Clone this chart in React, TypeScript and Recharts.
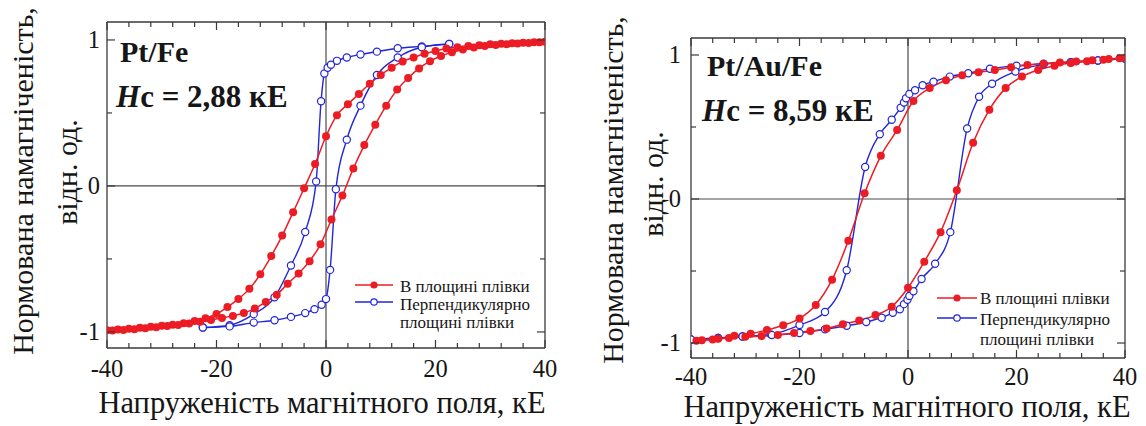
import React from 'react';
import { LineChart, Line, XAxis, YAxis, ReferenceLine, Legend, Label } from 'recharts';

const W = 1146;
const H = 426;
const RED = '#ec1c24';
const BLUE = '#2226d8';
const AXIS = '#3a3a3a';
const TEXT = '#161616';
const SERIF = '"Liberation Serif", "DejaVu Serif", "Times New Roman", serif';

// ---- axes / labels ----
const X_TICKS = [-40, -36, -32, -28, -24, -20, -16, -12, -8, -4, 0, 4, 8, 12, 16, 20, 24, 28, 32, 36, 40];
const X_LABELS = [-40, -20, 0, 20, 40];
const Y_TICKS = [-1, -0.5, 0, 0.5, 1];
const Y_LABELS = [-1, 0, 1];
const SERIES_NAMES = ['В площині плівки', 'Перпендикулярно', 'площині плівки'];
const X_TITLE = 'Напруженість магнітного поля, кЕ';
const Y_TITLE_1 = 'Нормована намагніченість,';
const Y_TITLE_2 = 'відн. од.';
const SAMPLES = ['Pt/Fe', 'Pt/Au/Fe'];
const HC_VALUES = ['2,88', '8,59'];

// ---- Pt/Fe, in-plane (red) ----
const ptFeInPlaneDescH = [-40, -38, -36, -34, -32, -30, -28, -26, -24, -22, -20, -18, -16, -14, -12, -10, -8, -6, -4, -2, 0, 2, 4, 6, 8, 10, 12, 14, 16, 18, 20, 22, 24, 26, 28, 30, 32, 34, 36, 38, 40];
const ptFeInPlaneDescM = [-0.988, -0.983, -0.978, -0.972, -0.965, -0.958, -0.95, -0.94, -0.925, -0.906, -0.877, -0.83, -0.774, -0.705, -0.605, -0.48, -0.34, -0.18, -0.016, 0.15, 0.34, 0.485, 0.56, 0.63, 0.7, 0.76, 0.81, 0.853, 0.88, 0.905, 0.925, 0.942, 0.95, 0.958, 0.964, 0.97, 0.974, 0.978, 0.981, 0.984, 0.988];
const ptFeInPlaneAscH = [-39, -37, -35, -33, -31, -29, -27, -25, -23, -21, -19, -17, -15, -13, -11, -9, -7, -5, -3, -1, 1, 3, 5, 7, 9, 11, 13, 15, 17, 19, 21, 23, 25, 27, 29, 31, 33, 35, 37, 39];
const ptFeInPlaneAscM = [-0.99, -0.986, -0.981, -0.975, -0.968, -0.96, -0.952, -0.942, -0.93, -0.918, -0.905, -0.89, -0.87, -0.84, -0.795, -0.745, -0.67, -0.6, -0.515, -0.4, -0.23, -0.065, 0.12, 0.28, 0.42, 0.55, 0.66, 0.74, 0.805, 0.855, 0.89, 0.915, 0.935, 0.948, 0.958, 0.965, 0.971, 0.976, 0.98, 0.985];

// ---- Pt/Fe, perpendicular (blue) ----
const ptFePerpDescH = [-22.5, -17.6, -13.2, -9.4, -6.4, -3.8, -1.8, -0.9, -0.3, 0.3, 0.9, 2.0, 3.8, 6.3, 9.3, 13.1, 17.5, 22.5];
const ptFePerpDescM = [-0.97, -0.954, -0.878, -0.763, -0.545, -0.315, 0.03, 0.58, 0.77, 0.81, 0.83, 0.857, 0.88, 0.9, 0.92, 0.943, 0.956, 0.972];
const ptFePerpAscH = [-22.5, -17.6, -13.2, -9.4, -6.4, -3.8, -2.1, -0.8, 0.0, 0.75, 1.8, 3.8, 6.3, 9.3, 13.1, 17.5, 22.5];
const ptFePerpAscM = [-0.97, -0.962, -0.936, -0.92, -0.897, -0.871, -0.844, -0.814, -0.775, -0.575, -0.023, 0.317, 0.55, 0.76, 0.88, 0.95, 0.972];

// ---- Pt/Au/Fe, in-plane (red) ----
const ptAuFeInPlaneDescH = [-38, -35, -32, -29, -26, -23, -20, -17, -14, -11, -8, -5, -2, 1, 4, 7, 10, 13, 16, 19, 22, 25, 28, 31, 34, 37, 40];
const ptAuFeInPlaneDescM = [-0.98, -0.97, -0.95, -0.935, -0.91, -0.877, -0.83, -0.736, -0.56, -0.29, 0.04, 0.3, 0.48, 0.68, 0.77, 0.825, 0.86, 0.88, 0.895, 0.915, 0.93, 0.94, 0.948, 0.955, 0.963, 0.972, 0.98];
const ptAuFeInPlaneAscH = [-39, -36, -33, -30, -27, -24, -21, -18, -15, -12, -9, -6, -3, 0, 3, 6, 9, 12, 15, 18, 21, 24, 27, 30, 33, 36, 39];
const ptAuFeInPlaneAscM = [-0.985, -0.975, -0.965, -0.957, -0.952, -0.945, -0.93, -0.917, -0.9, -0.87, -0.843, -0.806, -0.748, -0.616, -0.435, -0.23, 0.06, 0.39, 0.62, 0.77, 0.85, 0.895, 0.925, 0.945, 0.957, 0.967, 0.978];

// ---- Pt/Au/Fe, perpendicular (blue) ----
const ptAuFePerpDescH = [-40, -35, -30.5, -25.3, -20, -15.3, -11.3, -7.9, -5.2, -3.0, -1.35, -0.74, -0.37, 0.25, 1.3, 2.7, 4.7, 7.7, 11.1, 15.1, 20, 25, 30, 35, 40];
const ptAuFePerpDescM = [-0.975, -0.965, -0.955, -0.94, -0.875, -0.785, -0.495, 0.222, 0.45, 0.55, 0.634, 0.67, 0.7, 0.73, 0.755, 0.79, 0.815, 0.85, 0.873, 0.905, 0.925, 0.94, 0.95, 0.962, 0.975];
const ptAuFePerpAscH = [-40, -35, -30.5, -25.1, -20, -15.3, -11.3, -7.7, -4.85, -2.8, -1.5, -0.74, -0.1, 0.25, 1.0, 2.5, 5.0, 7.8, 10.9, 13.1, 15.5, 19.8, 25, 30, 35, 40];
const ptAuFePerpAscM = [-0.975, -0.965, -0.955, -0.945, -0.93, -0.905, -0.88, -0.854, -0.824, -0.79, -0.766, -0.73, -0.7, -0.674, -0.64, -0.555, -0.45, -0.23, 0.49, 0.71, 0.8, 0.885, 0.935, 0.95, 0.962, 0.975];

const rows = (h: number[], m: number[]) => h.map((v, i) => ({ h: v, m: m[i] }));

const makeBottomTick = (labelDy: number) => (props: any) => {
  const { x, y, payload } = props;
  const major = X_LABELS.includes(payload.value);
  return (
    <g>
      <line x1={x} x2={x} y1={y} y2={y - (major ? 8 : 5)} stroke={AXIS} strokeWidth={1.2} />
      {major && (
        <text x={x} y={y + labelDy} textAnchor="middle" fontFamily={SERIF} fontSize={24.5} fill={TEXT}>
          {payload.value}
        </text>
      )}
    </g>
  );
};
const TopTick = (props: any) => {
  const { x, y, payload } = props;
  const major = X_LABELS.includes(payload.value);
  return <line x1={x} x2={x} y1={y} y2={y + (major ? 8 : 5)} stroke={AXIS} strokeWidth={1.2} />;
};
const makeLeftTick = (gap: number) => (props: any) => {
  const { x, y, payload } = props;
  const major = Y_LABELS.includes(payload.value);
  return (
    <g>
      <line x1={x} x2={x + (major ? 8 : 5)} y1={y} y2={y} stroke={AXIS} strokeWidth={1.2} />
      {major && (
        <text x={x - gap} y={y + 8} textAnchor="end" fontFamily={SERIF} fontSize={24.5} fill={TEXT}>
          {payload.value}
        </text>
      )}
    </g>
  );
};
const RightTick = (props: any) => {
  const { x, y, payload } = props;
  const major = Y_LABELS.includes(payload.value);
  return <line x1={x} x2={x - (major ? 8 : 5)} y1={y} y2={y} stroke={AXIS} strokeWidth={1.2} />;
};

type Pt = { h: number; m: number };
type PanelCfg = {
  box: { left: number; right: number; top: number; bottom: number };
  yDomain: [number, number];
  redDesc: Pt[];
  redAsc: Pt[];
  blueDesc: Pt[];
  blueAsc: Pt[];
  sample: string;
  hc: string;
  sampleXY: [number, number];
  hcXY: [number, number];
  xTitleXY: [number, number];
  yTitle1XY: [number, number];
  yTitle2XY: [number, number];
  tickLabelDy: number;
  yLabelGap: number;
  legendXY: [number, number];
  legendGeom: { x1: number; x2: number; tx: number; ly: [number, number]; ty: [number, number, number] };
};

const panels: PanelCfg[] = [
  {
    box: { left: 107, right: 545, top: 22, bottom: 348 },
    yDomain: [-1.11, 1.123],
    redDesc: rows(ptFeInPlaneDescH, ptFeInPlaneDescM),
    redAsc: rows(ptFeInPlaneAscH, ptFeInPlaneAscM),
    blueDesc: rows(ptFePerpDescH, ptFePerpDescM),
    blueAsc: rows(ptFePerpAscH, ptFePerpAscM),
    sample: SAMPLES[0],
    hc: HC_VALUES[0],
    sampleXY: [120, 62],
    hcXY: [116, 107],
    xTitleXY: [322, 413],
    yTitle1XY: [33, 181],
    yTitle2XY: [77, 172],
    tickLabelDy: 29,
    yLabelGap: 7,
    legendXY: [350, 272],
    legendGeom: { x1: 5, x2: 43, tx: 50, ly: [13, 30], ty: [20, 38, 56] },
  },
  {
    box: { left: 691, right: 1125, top: 38, bottom: 358 },
    yDomain: [-1.104, 1.118],
    redDesc: rows(ptAuFeInPlaneDescH, ptAuFeInPlaneDescM),
    redAsc: rows(ptAuFeInPlaneAscH, ptAuFeInPlaneAscM),
    blueDesc: rows(ptAuFePerpDescH, ptAuFePerpDescM),
    blueAsc: rows(ptAuFePerpAscH, ptAuFePerpAscM),
    sample: SAMPLES[1],
    hc: HC_VALUES[1],
    sampleXY: [707, 76],
    hcXY: [702, 121],
    xTitleXY: [907, 417],
    yTitle1XY: [623, 190],
    yTitle2XY: [663, 184],
    tickLabelDy: 27,
    yLabelGap: 10,
    legendXY: [932, 285],
    legendGeom: { x1: 5, x2: 45, tx: 48, ly: [13, 33], ty: [19, 40, 60] },
  },
];

const AX_B = 30; // bottom axis band
const AX_T = 4; // top axis band
const AX_L = 40; // left axis band
const AX_R = 4; // right axis band

const LegendBox = ({ g }: { g: PanelCfg['legendGeom'] }) => {
  const mx = (g.x1 + g.x2) / 2;
  return (
    <svg width={200} height={70} style={{ display: 'block', overflow: 'visible', fontFamily: SERIF }}>
      <line x1={g.x1} x2={g.x2} y1={g.ly[0]} y2={g.ly[0]} stroke={RED} strokeWidth={1.6} />
      <circle cx={mx} cy={g.ly[0]} r={3.6} fill={RED} />
      <line x1={g.x1} x2={g.x2} y1={g.ly[1]} y2={g.ly[1]} stroke={BLUE} strokeWidth={1.4} />
      <circle cx={mx} cy={g.ly[1]} r={3.2} fill="#fff" stroke={BLUE} strokeWidth={1.2} />
      {SERIES_NAMES.map((t, i) => (
        <text key={i} x={g.tx} y={g.ty[i]} fontFamily={SERIF} style={{ fontFamily: SERIF }} fontSize={17} fill={TEXT}>
          {t}
        </text>
      ))}
    </svg>
  );
};

const Panel = ({ cfg }: { cfg: PanelCfg }) => {
  const redDot = { r: 4, fill: RED, stroke: RED, strokeWidth: 0 };
  const blueDot = { r: 3.6, fill: '#ffffff', stroke: BLUE, strokeWidth: 1.2 };
  const margin = {
    top: cfg.box.top - AX_T,
    bottom: H - cfg.box.bottom - AX_B,
    left: cfg.box.left - AX_L,
    right: W - cfg.box.right - AX_R,
  };
  return (
    <div style={{ position: 'absolute', left: 0, top: 0, width: W, height: H }}>
      <LineChart width={W} height={H} margin={margin}>
        <XAxis
          dataKey="h"
          type="number"
          domain={[-40, 40]}
          ticks={X_TICKS}
          interval={0}
          height={AX_B}
          tickSize={0}
          tickMargin={0}
          allowDataOverflow
          axisLine={{ stroke: AXIS, strokeWidth: 1.3 }}
          tick={makeBottomTick(cfg.tickLabelDy)}
        >
          <Label
            content={() => (
              <text x={cfg.xTitleXY[0]} y={cfg.xTitleXY[1]} textAnchor="middle" fontFamily={SERIF} fontSize={30.5} fill={TEXT}>
                {X_TITLE}
              </text>
            )}
          />
        </XAxis>
        <XAxis
          xAxisId="top"
          orientation="top"
          dataKey="h"
          type="number"
          domain={[-40, 40]}
          ticks={X_TICKS}
          interval={0}
          height={AX_T}
          tickSize={0}
          tickMargin={0}
          allowDataOverflow
          axisLine={{ stroke: AXIS, strokeWidth: 1.3 }}
          tick={TopTick}
        />
        <YAxis
          type="number"
          domain={cfg.yDomain}
          ticks={Y_TICKS}
          interval={0}
          width={AX_L}
          tickSize={0}
          tickMargin={0}
          allowDataOverflow
          axisLine={{ stroke: AXIS, strokeWidth: 1.3 }}
          tick={makeLeftTick(cfg.yLabelGap)}
        >
          <Label
            content={() => (
              <g fontFamily={SERIF} fontSize={30} fill={TEXT}>
                <text
                  x={cfg.yTitle1XY[0]}
                  y={cfg.yTitle1XY[1]}
                  textAnchor="middle"
                  transform={`rotate(-90, ${cfg.yTitle1XY[0]}, ${cfg.yTitle1XY[1]})`}
                >
                  {Y_TITLE_1}
                </text>
                <text
                  x={cfg.yTitle2XY[0]}
                  y={cfg.yTitle2XY[1]}
                  textAnchor="middle"
                  transform={`rotate(-90, ${cfg.yTitle2XY[0]}, ${cfg.yTitle2XY[1]})`}
                >
                  {Y_TITLE_2}
                </text>
              </g>
            )}
          />
        </YAxis>
        <YAxis
          yAxisId="right"
          orientation="right"
          type="number"
          domain={cfg.yDomain}
          ticks={Y_TICKS}
          interval={0}
          width={AX_R}
          tickSize={0}
          tickMargin={0}
          allowDataOverflow
          axisLine={{ stroke: AXIS, strokeWidth: 1.3 }}
          tick={RightTick}
        />
        <ReferenceLine x={0} stroke="#4a4a4a" strokeWidth={1.2} />
        <ReferenceLine y={0} stroke="#4a4a4a" strokeWidth={1.2} />
        <Line data={cfg.blueDesc} dataKey="m" name={SERIES_NAMES[1]} type="monotone" stroke={BLUE} strokeWidth={1.4} dot={blueDot} isAnimationActive={false} />
        <Line data={cfg.blueAsc} dataKey="m" name="blue-asc" legendType="none" type="monotone" stroke={BLUE} strokeWidth={1.4} dot={blueDot} isAnimationActive={false} />
        <Line data={cfg.redDesc} dataKey="m" name={SERIES_NAMES[0]} type="monotone" stroke={RED} strokeWidth={1.5} dot={redDot} isAnimationActive={false} />
        <Line data={cfg.redAsc} dataKey="m" name="red-asc" legendType="none" type="monotone" stroke={RED} strokeWidth={1.5} dot={redDot} isAnimationActive={false} />
        <Legend
          layout="horizontal"
          verticalAlign="middle"
          align="center"
          wrapperStyle={{ position: 'absolute', left: cfg.legendXY[0], top: cfg.legendXY[1], width: 200, height: 70 }}
          content={() => <LegendBox g={cfg.legendGeom} />}
        />
        <text x={cfg.sampleXY[0]} y={cfg.sampleXY[1]} fontFamily={SERIF} fontSize={30} fontWeight="bold" fill={TEXT}>
          {cfg.sample}
        </text>
        <text x={cfg.hcXY[0]} y={cfg.hcXY[1]} fontFamily={SERIF} fontSize={31} fontWeight="bold" fill={TEXT}>
          <tspan fontStyle="italic">H</tspan>
          <tspan>{`c = ${cfg.hc} кЕ`}</tspan>
        </text>
      </LineChart>
    </div>
  );
}

export default function App() {
  return (
    <div style={{ position: 'absolute', left: 0, top: 0, width: W, height: H, background: '#ffffff', fontFamily: SERIF }}>
      {panels.map((p, i) => (
        <Panel key={i} cfg={p} />
      ))}
    </div>
  );
}
